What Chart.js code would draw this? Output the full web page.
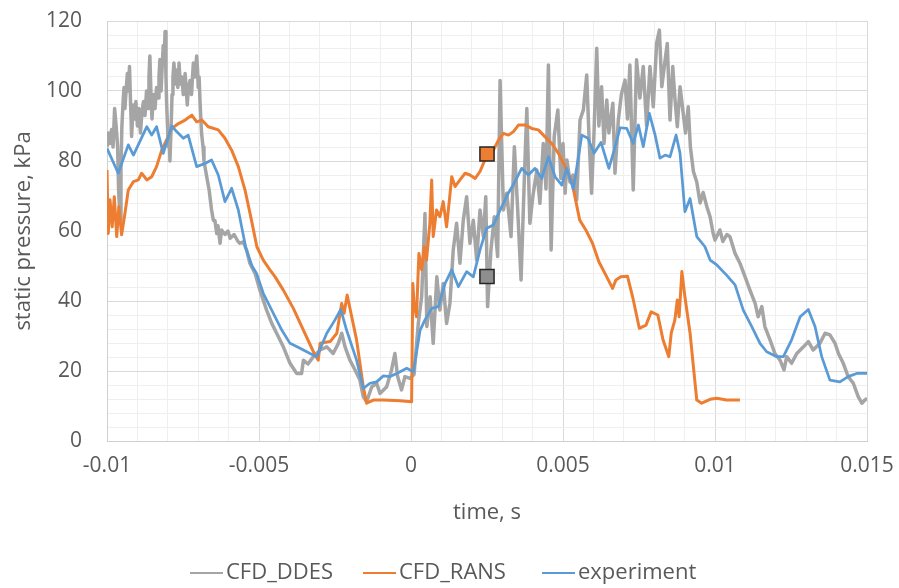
<!DOCTYPE html>
<html>
<head>
<meta charset="utf-8">
<script src="https://cdn.jsdelivr.net/npm/chart.js@4.4.1/dist/chart.umd.min.js"></script>
<style>
html,body{margin:0;padding:0;background:#ffffff;}
#wrap{width:899px;height:588px;position:relative;}
</style>
</head>
<body>
<div id="wrap"><canvas id="c"></canvas></div>
<script>
const seriesNames = ['CFD_DDES', 'CFD_RANS', 'experiment'];
const xTickLabels = ['-0.01', '-0.005', '0', '0.005', '0.01', '0.015'];
const yTickLabels = ['0', '20', '40', '60', '80', '100', '120'];
const xTitle = 'time, s';
const yTitle = 'static pressure, kPa';

// time values in milliseconds (axis labels shown in seconds)
const ddesTime = [-10.00,-9.95,-9.90,-9.85,-9.80,-9.75,-9.70,-9.65,-9.62,-9.57,
-9.54,-9.51,-9.47,-9.44,-9.41,-9.38,-9.33,-9.29,-9.26,-9.23,
-9.19,-9.14,-9.09,-9.05,-9.00,-8.95,-8.90,-8.85,-8.80,-8.75,
-8.70,-8.65,-8.62,-8.59,-8.55,-8.52,-8.47,-8.42,-8.37,-8.32,
-8.29,-8.26,-8.22,-8.19,-8.15,-8.12,-8.09,-8.06,-8.04,-8.01,
-7.98,-7.95,-7.93,-7.89,-7.86,-7.83,-7.80,-7.75,-7.71,-7.67,
-7.63,-7.59,-7.54,-7.49,-7.43,-7.39,-7.36,-7.32,-7.27,-7.22,
-7.16,-7.11,-7.05,-7.02,-7.00,-6.97,-6.94,-6.89,-6.84,-6.81,
-6.72,-6.64,-6.56,-6.50,-6.45,
-6.39,-6.35,-6.28,-6.23,-6.12,-6.02,-5.95,-5.82,-5.69,-5.63,
-5.52,-5.41,-5.30,-5.13,-4.97,-4.75,-4.58,-4.42,-4.20,-3.98,
-3.76,-3.60,-3.54,-3.39,-3.21,-2.99,-2.77,-2.56,-2.39,-2.28,
-2.17,-2.01,-1.84,-1.68,-1.57,-1.46,-1.29,-1.13,-1.02,-0.80,
-0.64,-0.53,-0.44,-0.31,-0.20,-0.03,0.10,0.24,0.35,0.46,
0.52,0.63,0.73,0.85,0.95,1.06,1.17,1.28,1.39,1.50,
1.61,1.72,1.83,1.94,2.05,2.16,2.27,2.38,2.46,2.52,
2.63,2.74,2.85,2.93,3.04,3.15,3.29,3.40,3.51,3.62,
3.73,3.81,3.91,4.01,4.14,4.24,4.35,4.44,4.52,4.61,
4.71,4.83,4.93,5.00,5.07,5.13,5.23,5.33,5.45,5.56,
5.67,5.78,5.86,5.94,6.02,6.11,6.18,6.27,6.35,6.44,
6.51,6.64,6.71,6.82,6.92,7.04,7.12,7.20,7.31,7.42,
7.53,7.64,7.75,7.86,7.97,8.08,8.17,8.25,8.36,8.43,
8.52,8.61,8.68,8.76,8.85,8.95,9.03,9.12,9.19,9.29,
9.40,9.51,9.61,9.73,9.84,9.94,10.00,10.16,10.26,10.39,
10.49,10.66,10.82,10.99,11.15,11.32,11.42,11.54,11.64,11.81,
11.97,12.14,12.27,12.36,12.52,12.69,12.91,13.07,13.23,13.45,
13.62,13.78,13.95,14.06,14.22,14.38,14.55,14.71,14.83,14.93,
15.00];
const ddesPressure = [84,88,85,89,84,95,90,84,72,63,
78,90,97,101,95,99,105,100,107,98,
87,96,92,97,90,95,88,94,97,93,
100,95,104,110,98,92,99,95,101,98,
104,109,100,106,113,108,117,104,97,90,
84,86,80,90,99,104,108,102,106,101,
108,102,104,99,105,100,96,101,103,99,
108,104,110,106,101,104,97,88,84,80,
75.5,71.7,66,63,63,
59.3,61.5,56.5,60.3,59,60,57.9,59,57,56.5,
56.9,54.6,50.8,47.9,43.1,37.4,33.6,30.8,26.9,22.2,
19.3,19.3,23.1,22,24.1,26,26.9,25,27.9,30.8,
26.9,23.1,20.3,17.4,12.7,11.2,15.5,16.5,13.6,15.5,
20.3,25,18.4,14.6,18.4,17.9,19,33.6,41.2,65,
32.7,41.2,27.9,46.9,37.4,45,33.6,39.3,54.6,62.2,
50.8,63.1,69.8,56.5,63.1,51.7,66,58.4,69.8,38.4,
54.6,64.1,52.7,103,66,70.8,58.4,84.1,66,46,
75.5,95,62.2,70,77.4,67.9,85,72,107.4,54.6,
86.9,94.6,75,85,70.8,80.3,74,76,68.9,91.7,
94.6,104.6,86,70.8,88,112.2,90,101.2,85,97.4,
88,96.5,76.5,91.7,99,103.1,92,107.4,71.7,108.9,
98,107,90,107,95.5,113.6,117.4,101.2,108.9,113.6,
91.7,107,98,89.8,101.2,94,88,95.5,84,77,
74,68,71,67,64,59.3,57.4,60.3,57,59,
58.4,53.6,50.8,46.9,43.1,39.3,35.5,38.4,32.7,28.9,
25,23.1,20.3,24.1,22.2,25,26.9,28.4,26,27.9,
30.8,30.3,27.9,25,22.2,18.4,16.5,12.7,10.8,11.7,
12.2];

const ransTime = [-10.00,-9.96,-9.90,-9.83,-9.76,-9.68,-9.61,-9.52,-9.41,-9.30,
-9.13,-8.97,-8.86,-8.69,-8.53,-8.37,-8.20,-8.04,-7.87,-7.65,
-7.43,-7.21,-7.05,-6.88,-6.67,-6.34,-6.12,-5.90,-5.68,-5.46,
-5.26,-5.07,-4.86,-4.64,-4.47,-4.20,-3.87,-3.54,-3.21,-3.05,
-2.99,-2.66,-2.44,-2.28,-2.20,-2.10,-1.95,-1.79,-1.57,-1.46,
-1.24,-0.91,-0.36,0.02,0.06,0.10,0.18,0.26,0.35,0.44,
0.51,0.62,0.68,0.73,0.84,0.95,1.06,1.17,1.28,1.34,
1.45,1.61,1.78,1.94,2.11,2.27,2.43,2.71,2.88,3.04,
3.21,3.37,3.54,3.75,3.97,4.19,4.41,4.63,4.85,5.07,
5.29,5.55,5.75,5.97,6.18,6.41,6.63,6.74,6.90,7.12,
7.29,7.51,7.73,7.90,8.12,8.29,8.48,8.56,8.68,8.76,
8.82,8.91,9.01,9.18,9.29,9.40,9.56,9.84,10.06,10.38,
10.82];
const ransPressure = [77.4,59.3,68.9,61.2,69.8,58.4,66.9,58.9,65,71.7,
74.1,74.6,76.5,74.6,75.5,78.4,83.1,86,89.3,90.7,
91.7,93.1,91.2,91.7,89.8,88.9,86.5,83.1,78.4,71.7,
63.6,55.5,51.7,48.9,46.9,43.1,37.9,31.7,25.5,23.1,
27.9,28.4,30.8,39.3,36.5,41.7,35.5,28.9,15.5,10.8,
11.7,11.7,11.5,11.2,45,39.3,35.5,53.6,48.9,55.5,
51.7,62.2,74.6,58.4,66,64.1,68.4,61.2,70.3,75.5,
72.7,74.6,76.5,76,75,77,80.3,83.1,86,87.9,
87.4,88.4,90.3,90.3,89.3,88.9,86.9,85,82.2,78.4,
74.1,63.1,60.3,56.5,51.2,47.4,43.6,46,46.9,47.1,
41.2,32.2,33.1,36.9,36,28.9,24.1,30.8,34.6,40.3,
35.5,48.4,41.2,30.8,21.2,11.7,10.8,11.9,12.2,11.7,
11.7];

const expTime = [-10.00,-9.63,-9.30,-9.13,-8.69,-8.53,-8.37,-8.15,-7.87,-7.71,
-7.49,-7.33,-7.05,-6.78,-6.56,-6.34,-6.12,-5.90,-5.68,-5.43,
-5.23,-5.08,-4.86,-4.53,-4.25,-3.98,-3.65,-3.32,-3.10,-2.77,
-2.50,-2.31,-2.12,-1.79,-1.57,-1.35,-1.13,-0.91,-0.69,-0.47,
-0.14,0.08,0.30,0.46,0.68,0.90,1.12,1.34,1.56,1.83,
2.05,2.27,2.49,2.71,2.98,3.20,3.42,3.64,3.86,4.08,
4.30,4.52,4.74,4.96,5.12,5.34,5.62,5.82,6.02,6.25,
6.51,6.68,6.88,7.10,7.31,7.48,7.64,7.84,8.03,8.19,
8.36,8.52,8.72,8.85,9.01,9.18,9.40,9.67,9.84,10.06,
10.38,10.66,10.93,11.21,11.48,11.70,12.03,12.25,12.52,12.80,
13.07,13.29,13.51,13.78,14.11,14.38,14.66,15.00];
const expPressure = [83.6,76.5,84.6,81.7,89.8,87.4,89.8,82.2,90,88.4,
86.5,87.4,78.4,79.3,80.3,76,68.4,72.2,66,55,
50,47.9,42.2,36.5,31.7,27.9,26.5,25,24.1,30.8,
34.6,37.6,31.7,23.1,15,16.5,16.9,18.6,18.4,19.3,
20.8,19.8,31.7,34.6,37.9,38.4,45,48.9,44.1,48.4,
46.9,54.6,60.8,61.7,66.9,70.8,74.1,77.9,76,77.9,
75,81.2,75.5,73.1,77.9,72,87.4,86.5,82.2,85.3,
77.9,83,89.5,89.3,85,90.3,84.1,93.6,87.4,80.8,
81.7,81.2,87.4,82.2,65.5,69.3,58.4,55.5,51.7,50.3,
47.4,44.6,37.4,32.7,27.9,25.5,24.1,24.1,28.9,35.5,
37.6,32.7,24.1,17.4,16.9,18.4,19.3,19.3];

// highlighted points (square markers)
const markerTime = [2.5, 2.5];
const markerPressure = [82, 47];

const colors = {ddes: '#A5A5A5', rans: '#ED7D31', exp: '#5B9BD5'};
const textColor = '#595959';
const fontFamily = '"Open Sans", sans-serif';

function pairs(t, v) { return t.map((x, i) => ({x: x, y: v[i]})); }

Chart.defaults.font.family = fontFamily;
Chart.defaults.color = textColor;

const bottomLegend = {
  id: 'bottomLegend',
  afterDraw(chart) {
    const ctx = chart.ctx;
    const starts = [190, 363, 542];
    const lineLen = 33;
    const y = 573;
    ctx.save();
    ctx.font = '22px ' + fontFamily;
    ctx.textBaseline = 'middle';
    ctx.textAlign = 'left';
    for (let i = 0; i < 3; i++) {
      const ds = chart.data.datasets[i];
      ctx.strokeStyle = ds.borderColor;
      ctx.lineWidth = 2;
      ctx.beginPath();
      ctx.moveTo(starts[i], y);
      ctx.lineTo(starts[i] + lineLen, y);
      ctx.stroke();
      ctx.fillStyle = textColor;
      ctx.fillText(ds.label, starts[i] + lineLen + 3, y);
    }
    ctx.restore();
  }
};

new Chart(document.getElementById('c'), {
  type: 'line',
  data: {
    datasets: [
      {label: seriesNames[0], data: pairs(ddesTime, ddesPressure), borderColor: colors.ddes, borderWidth: 3.5, pointRadius: 0, tension: 0, order: 3, borderJoinStyle: 'round'},
      {label: seriesNames[1], data: pairs(ransTime, ransPressure), borderColor: colors.rans, borderWidth: 3, pointRadius: 0, tension: 0, order: 2, borderJoinStyle: 'round'},
      {label: seriesNames[2], data: pairs(expTime, expPressure), borderColor: colors.exp, borderWidth: 2.75, pointRadius: 0, tension: 0, order: 1, borderJoinStyle: 'round'},
      {label: 'rans marker', data: [{x: markerTime[0], y: markerPressure[0]}], showLine: false, pointStyle: 'rect', pointRadius: 10, pointBackgroundColor: colors.rans, pointBorderColor: '#262626', pointBorderWidth: 1.5, order: 0},
      {label: 'ddes marker', data: [{x: markerTime[1], y: markerPressure[1]}], showLine: false, pointStyle: 'rect', pointRadius: 10, pointBackgroundColor: '#8E8E8E', pointBorderColor: '#262626', pointBorderWidth: 1.5, order: 0}
    ]
  },
  options: {
    responsive: true,
    maintainAspectRatio: false,
    animation: false,
    devicePixelRatio: 1,
    layout: {padding: {left: 0, top: 21, right: 32, bottom: 52}},
    plugins: {legend: {display: false}, tooltip: {enabled: false}},
    scales: {
      x: {
        type: 'linear', min: -10, max: 15,
        afterFit: s => { s.height = 95; },
        ticks: {
          stepSize: 1, autoSkip: false, maxRotation: 0, padding: 2,
          font: {size: 21}, color: textColor,
          callback: v => { const k = Math.round(v); if (Math.abs(v - k) > 1e-6 || k % 5 !== 0) return ''; return xTickLabels[(k + 10) / 5]; }
        },
        grid: {
          drawTicks: true, tickLength: 10, tickColor: 'rgba(0,0,0,0)', lineWidth: 1,
          color: c => (c.tick && Math.round(c.tick.value) % 5 === 0) ? '#d9d9d9' : '#efefef'
        },
        border: {color: '#d0d0d0', width: 1},
        title: {display: true, text: xTitle, font: {size: 22}, color: textColor, padding: {top: 0, bottom: 10}}
      },
      y: {
        type: 'linear', min: 0, max: 120,
        afterFit: s => { s.width = 107; },
        ticks: {
          stepSize: 4, autoSkip: false, padding: 2,
          font: {size: 21}, color: textColor,
          callback: v => { const k = Math.round(v); if (k % 20 !== 0) return ''; return yTickLabels[k / 20]; }
        },
        grid: {
          drawTicks: true, tickLength: 23, tickColor: 'rgba(0,0,0,0)', lineWidth: 1,
          color: c => (c.tick && Math.round(c.tick.value) % 20 === 0) ? '#d9d9d9' : '#efefef'
        },
        border: {color: '#d0d0d0', width: 1},
        title: {display: true, text: yTitle, font: {size: 22}, color: textColor, padding: {top: 11, bottom: 0}}
      }
    }
  },
  plugins: [bottomLegend]
});
</script>
</body>
</html>
